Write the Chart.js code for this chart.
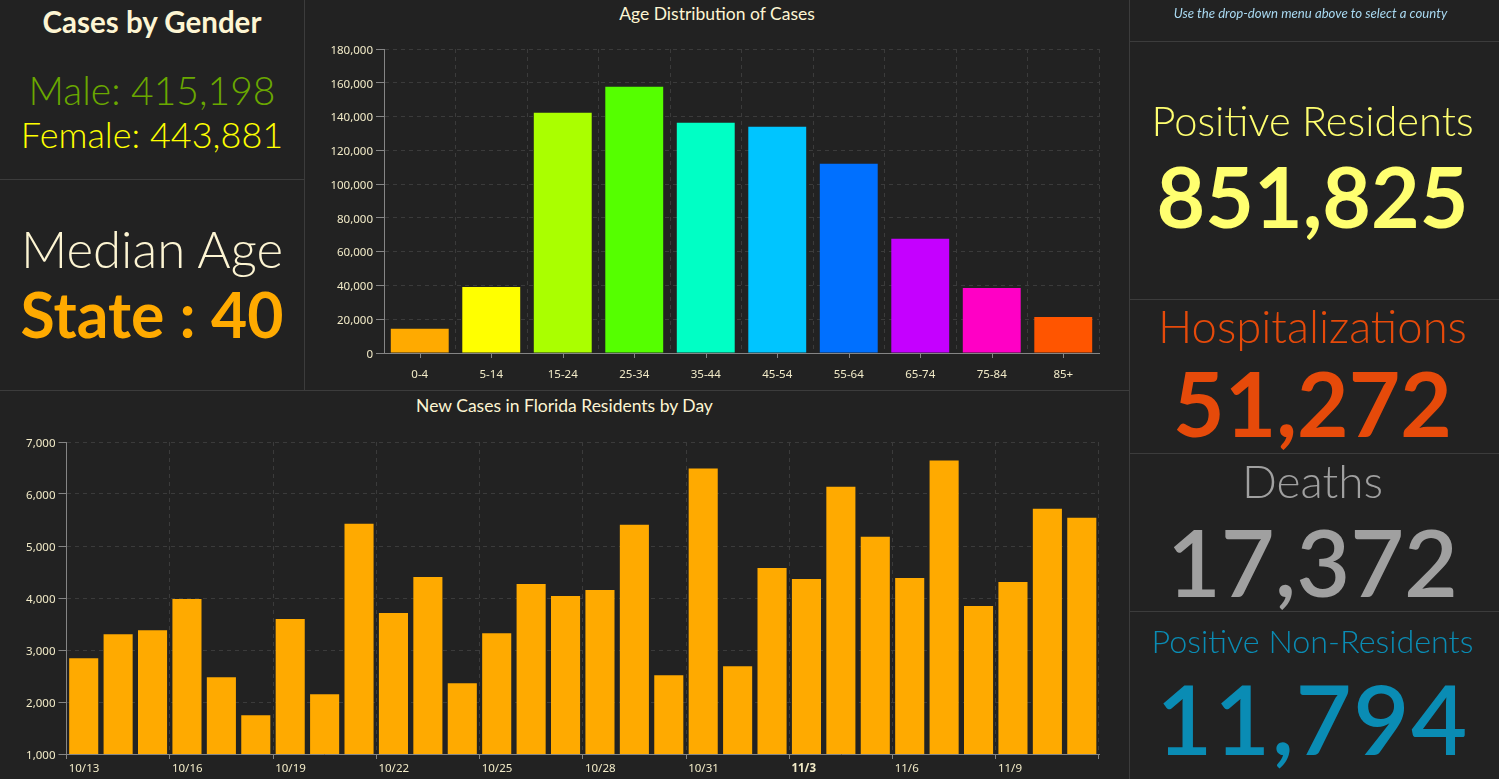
<!DOCTYPE html>
<html>
<head>
<meta charset="utf-8">
<title>Florida COVID-19 Dashboard</title>
<script src="https://cdn.jsdelivr.net/npm/chart.js@4"></script>
<style>
    html, body { margin: 0; padding: 0; width: 1499px; height: 779px; overflow: hidden; background: #222222; }
    body { position: relative; font-family: Lato, "Noto Sans", sans-serif; }
    canvas { position: absolute; }
    .rule { position: absolute; background: #3c3c3c; }
    .txt { position: absolute; text-align: center; white-space: nowrap; font-weight: 300; transform: translateY(-50%); line-height: 1; }
    .left { left: 0; width: 304px; }
    .right { left: 1128px; width: 369px; }
    .title { font-weight: 400; color: #fdf5d3; font-size: 17.5px; }
</style>
</head>
<body>
<div class="rule" style="left:304px;top:0;width:1px;height:390px"></div>
<div class="rule" style="left:1129px;top:0;width:1px;height:779px"></div>
<div class="rule" style="left:0;top:179px;width:304px;height:1px"></div>
<div class="rule" style="left:0;top:390px;width:1129px;height:1px"></div>
<div class="rule" style="left:1130px;top:41px;width:369px;height:1px"></div>
<div class="rule" style="left:1130px;top:299px;width:369px;height:1px"></div>
<div class="rule" style="left:1130px;top:453px;width:369px;height:1px"></div>
<div class="rule" style="left:1130px;top:611px;width:369px;height:1px"></div>

<div class="txt left" style="top:22px;font-size:29.5px;font-weight:700;color:#fdf5d3">Cases by Gender</div>
<div class="txt left" style="top:90px;font-size:39px;color:#6aa800">Male: 415,198</div>
<div class="txt left" style="top:134px;font-size:36px;color:#ffff00">Female: 443,881</div>
<div class="txt left" style="top:248px;font-size:51px;color:#fdf5d3">Median Age</div>
<div class="txt left" style="top:314px;font-size:62.5px;font-weight:700;color:#ffaa00">State : 40</div>

<div class="txt title" style="left:305px;width:824px;top:14px">Age Distribution of Cases</div>
<div class="txt title" style="left:0;width:1129px;top:406px">New Cases in Florida Residents by Day</div>
<canvas id="age-chart"></canvas>
<canvas id="daily-chart"></canvas>

<div class="txt right" style="top:14px;margin-left:-2px;font-size:13.2px;font-style:italic;font-weight:400;color:#a8d8f0">Use the drop-down menu above to select a county</div>
<div class="txt right" style="top:121px;font-size:41.6px;color:#ffff70">Positive Residents</div>
<div class="txt right" style="top:196px;font-size:84px;font-weight:700;color:#ffff70">851,825</div>
<div class="txt right" style="top:326px;font-size:45.4px;color:#e64a0a">Hospitalizations</div>
<div class="txt right" style="top:402px;font-size:89px;font-weight:700;color:#e64a0a">51,272</div>
<div class="txt right" style="top:481px;font-size:46px;color:#a0a0a0">Deaths</div>
<div class="txt right" style="top:561px;font-size:93px;font-weight:600;color:#a0a0a0">17,372</div>
<div class="txt right" style="top:641px;font-size:32.3px;color:#0a8cb4">Positive Non-Residents</div>
<div class="txt right" style="top:717px;font-size:97px;font-weight:600;letter-spacing:1.5px;color:#0a8cb4">11,794</div>

<script>
// Age distribution data
const ageGroups = ['0-4', '5-14', '15-24', '25-34', '35-44', '45-54', '55-64', '65-74', '75-84', '85+'];
const ageCases = [14300, 39100, 142300, 157700, 136300, 134000, 112000, 67600, 38500, 21300];
const ageColors = ['#ffaa00', '#ffff00', '#aaff00', '#55ff00', '#00ffc5', '#00c5ff', '#0070ff', '#c500ff', '#ff00c5', '#ff5500'];

// New cases by day
const days = ['10/13', '10/14', '10/15', '10/16', '10/17', '10/18', '10/19', '10/20', '10/21', '10/22',
    '10/23', '10/24', '10/25', '10/26', '10/27', '10/28', '10/29', '10/30', '10/31', '11/1',
    '11/2', '11/3', '11/4', '11/5', '11/6', '11/7', '11/8', '11/9', '11/10', '11/11'];
const dailyCases = [2842, 3305, 3382, 3980, 2476, 1743, 3595, 2148, 5427, 3710,
    4405, 2360, 3324, 4270, 4038, 4154, 5408, 2514, 6488, 2688,
    4578, 4366, 6141, 5176, 4385, 6643, 3845, 4308, 5716, 5543];

const TICK_COLOR = '#f2ebc8';
const GRID_COLOR = '#3b3b3b';
const AXIS_COLOR = '#858585';
const TICK_FONT = { family: '"Noto Sans", sans-serif', size: 11.5 };
const DASH = [4, 4];

// Small tick marks in the middle of each category
const centerTicks = {
    id: 'centerTicks',
    afterDatasetsDraw(chart) {
        const x = chart.scales.x;
        const ctx = chart.ctx;
        ctx.save();
        ctx.strokeStyle = AXIS_COLOR;
        ctx.beginPath();
        x.ticks.forEach((t, i) => {
            const px = Math.round(x.getPixelForTick(i)) + 0.5;
            ctx.moveTo(px, x.top);
            ctx.lineTo(px, x.top + 5);
        });
        ctx.stroke();
        ctx.restore();
    }
};

function setupCanvas(id, left, top, width, height) {
    const canvas = document.getElementById(id);
    canvas.style.left = left + 'px';
    canvas.style.top = top + 'px';
    canvas.style.width = width + 'px';
    canvas.style.height = height + 'px';
    canvas.width = width;
    canvas.height = height;
    return canvas;
}

function yAxis(min, max, step, width) {
    return {
        min, max,
        afterFit: (scale) => { scale.width = width; },
        border: { color: AXIS_COLOR, dash: DASH },
        grid: { color: GRID_COLOR, tickColor: AXIS_COLOR, tickLength: 8, tickBorderDash: [] },
        ticks: {
            stepSize: step,
            color: TICK_COLOR,
            font: TICK_FONT,
            padding: 3,
            labelOffset: 1.5,
            callback: value => value.toLocaleString('en-US')
        }
    };
}

new Chart(setupCanvas('age-chart', 305, 0, 824, 390), {
    type: 'bar',
    data: {
        labels: ageGroups,
        datasets: [{ data: ageCases, backgroundColor: ageColors, categoryPercentage: 1, barPercentage: 0.81 }]
    },
    options: {
        responsive: false,
        animation: false,
        layout: { padding: { top: 49, right: 30, left: 0, bottom: 0 } },
        plugins: { legend: { display: false } },
        scales: {
            x: {
                afterFit: (scale) => { scale.height = 37; },
                border: { color: AXIS_COLOR, dash: DASH },
                grid: { color: GRID_COLOR, drawTicks: false },
                ticks: { color: TICK_COLOR, font: TICK_FONT, padding: 15, maxRotation: 0 }
            },
            y: yAxis(0, 180000, 20000, 79)
        }
    },
    plugins: [centerTicks]
});

new Chart(setupCanvas('daily-chart', 0, 391, 1129, 388), {
    type: 'bar',
    data: {
        labels: days,
        datasets: [{ data: dailyCases, backgroundColor: '#ffaa00', categoryPercentage: 1, barPercentage: 0.845 }]
    },
    options: {
        responsive: false,
        animation: false,
        layout: { padding: { top: 51, right: 30, left: 0, bottom: 0 } },
        plugins: { legend: { display: false } },
        scales: {
            x: {
                afterFit: (scale) => { scale.height = 25; },
                border: { color: AXIS_COLOR, dash: DASH },
                grid: {
                    // Only every third day boundary gets a line and a tick (closing line has no index)
                    color: (ctx) => (ctx.index % 3 ? 'transparent' : GRID_COLOR),
                    tickColor: (ctx) => (ctx.index % 3 ? 'transparent' : AXIS_COLOR),
                    tickLength: 5,
                    tickBorderDash: []
                },
                ticks: {
                    autoSkip: false,
                    maxRotation: 0,
                    align: 'start',
                    labelOffset: -15,
                    padding: 3,
                    color: TICK_COLOR,
                    font: (ctx) => ({ ...TICK_FONT, weight: days[ctx.index] === '11/3' ? 'bold' : 'normal' }),
                    callback: (value, index) => (index % 3 === 0 ? days[index] : '')
                }
            },
            y: yAxis(1000, 7000, 1000, 66.5)
        }
    }
});
</script>
</body>
</html>
